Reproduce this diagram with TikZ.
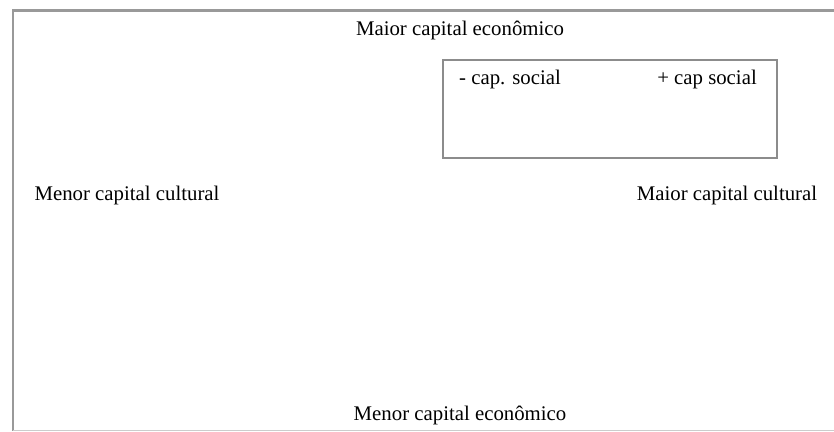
\documentclass[tikz,border=0pt]{standalone}
\usepackage{fontspec}
\setmainfont{Liberation Serif}
\usetikzlibrary{positioning}

\begin{document}
\begin{tikzpicture}[
  x=1pt, y=1pt,
  axislabel/.style={font=\fontsize{20.8}{24}\selectfont, inner sep=0pt},
  socialbox/.style={draw=black!45, line width=2pt, minimum width=334pt,
                    minimum height=98pt, inner sep=0pt},
  frame/.style={draw=black!40, line width=2.8pt},
]
\useasboundingbox (0,0) rectangle (834,431);

% ---- outer frame (right side cut off) ----
\draw[frame] (834,420.5) -- (13,420.5) -- (13,0);
\draw[black!20, line width=1pt] (13,0.5) -- (834,0.5);

% ---- axis labels ----
\node[axislabel] (econup)   at (460,401) {Maior capital econômico};
\node[axislabel] (econdown) at (460,16)  {Menor capital econômico};
\node[axislabel] (cultlow)  at (127,235) {Menor capital cultural};
\node[axislabel] (culthigh) at (727,235) {Maior capital cultural};

% ---- social capital box ----
\node[socialbox] (social) at (610,322) {};
\node[axislabel] (sociallow)  at (510,351) {- cap. social};
\node[axislabel] (socialhigh) at (707,351) {+ cap social};

\end{tikzpicture}
\end{document}
